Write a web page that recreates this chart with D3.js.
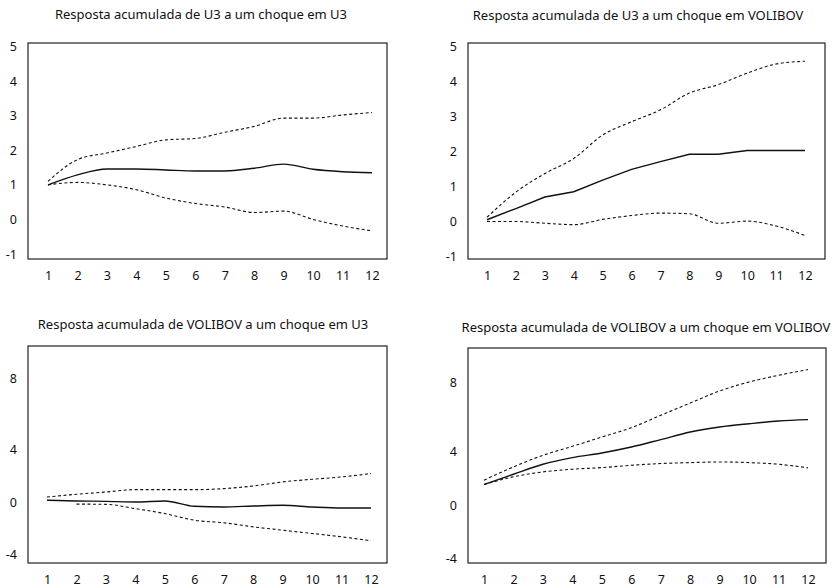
<!DOCTYPE html>
<html>
<head>
<meta charset="utf-8">
<script src="https://cdn.jsdelivr.net/npm/d3@7"></script>
<style>
  html, body { margin: 0; padding: 0; background: #fff; }
  svg { display: block; }
  text { font-family: "Noto Sans", "Open Sans", sans-serif; fill: #111; }
</style>
</head>
<body>
<svg id="chart" width="835" height="588"></svg>
<script>
// ---------------- data ----------------
const periods = [1, 2, 3, 4, 5, 6, 7, 8, 9, 10, 11, 12];

const titles = [
  "Resposta acumulada de U3 a um choque em U3",
  "Resposta acumulada de U3 a um choque em VOLIBOV",
  "Resposta acumulada de VOLIBOV a um choque em U3",
  "Resposta acumulada de VOLIBOV a um choque em VOLIBOV"
];

const yTicksU3 = [-1, 0, 1, 2, 3, 4, 5];
const yTicksVol = [-4, 0, 4, 8];

// U3 response to U3 shock
const u3u3Resp  = [1.00, 1.29, 1.46, 1.46, 1.43, 1.40, 1.40, 1.48, 1.60, 1.45, 1.38, 1.35];
const u3u3Upper = [1.10, 1.73, 1.92, 2.11, 2.30, 2.34, 2.52, 2.69, 2.93, 2.93, 3.02, 3.09];
const u3u3Lower = [1.00, 1.07, 1.00, 0.86, 0.62, 0.46, 0.36, 0.20, 0.24, 0.00, -0.19, -0.33];

// U3 response to VOLIBOV shock
const u3volResp  = [0.05, 0.37, 0.70, 0.85, 1.18, 1.49, 1.71, 1.92, 1.92, 2.03, 2.03, 2.03];
const u3volUpper = [0.12, 0.84, 1.37, 1.80, 2.47, 2.85, 3.19, 3.67, 3.91, 4.24, 4.50, 4.58];
const u3volLower = [0.00, 0.00, -0.05, -0.09, 0.06, 0.17, 0.24, 0.22, -0.05, 0.01, -0.13, -0.40];

// VOLIBOV response to U3 shock (lower band not shown at period 1)
const volu3Resp  = [0.13, 0.08, 0.05, 0.00, 0.08, -0.33, -0.38, -0.31, -0.25, -0.38, -0.46, -0.46];
const volu3Upper = [0.38, 0.59, 0.76, 0.94, 0.94, 0.94, 1.02, 1.22, 1.53, 1.73, 1.91, 2.17];
const volu3Lower = [null, -0.16, -0.18, -0.51, -0.89, -1.40, -1.60, -1.91, -2.17, -2.42, -2.68, -2.98];

// VOLIBOV response to VOLIBOV shock
const volvolResp  = [1.52, 2.28, 3.02, 3.51, 3.85, 4.23, 4.66, 5.10, 5.39, 5.58, 5.74, 5.82];
const volvolUpper = [1.84, 2.82, 3.68, 4.27, 4.81, 5.35, 6.07, 6.78, 7.48, 8.00, 8.39, 8.72];
const volvolLower = [1.52, 2.09, 2.45, 2.65, 2.77, 2.94, 3.07, 3.14, 3.19, 3.14, 3.02, 2.75];

// ---------------- layout ----------------
const panels = [
  { title: titles[0], tx: 201, ty: 19,
    box: { l: 28, r: 387, t: 43, b: 259 }, xr: [48, 372],
    yd: [-1, 5], yr: [254, 46.5], ticks: yTicksU3,
    resp: u3u3Resp, up: u3u3Upper, lo: u3u3Lower, curve: d3.curveMonotoneX },
  { title: titles[1], tx: 638, ty: 20,
    box: { l: 468, r: 825, t: 43, b: 259 }, xr: [487, 805],
    yd: [-1, 5], yr: [256.5, 46.5], ticks: yTicksU3,
    resp: u3volResp, up: u3volUpper, lo: u3volLower, curve: d3.curveLinear },
  { title: titles[2], tx: 203, ty: 329,
    box: { l: 28, r: 387, t: 346, b: 563 }, xr: [47, 371],
    yd: [-4, 0, 4, 8], yr: [554, 502, 449.5, 378], ticks: yTicksVol,
    resp: volu3Resp, up: volu3Upper, lo: volu3Lower, curve: d3.curveMonotoneX },
  { title: titles[3], tx: 646, ty: 332,
    box: { l: 468, r: 826, t: 348, b: 563 }, xr: [484, 808],
    yd: [-4, 0, 4, 8], yr: [558, 505, 451, 382], ticks: yTicksVol,
    resp: volvolResp, up: volvolUpper, lo: volvolLower, curve: d3.curveMonotoneX }
];

const svg = d3.select("#chart");
const fmt = d => String(d);

panels.forEach(p => {
  const g = svg.append("g");
  const x = d3.scaleLinear().domain([1, 12]).range(p.xr);
  const y = d3.scaleLinear().domain(p.yd).range(p.yr);

  // title
  g.append("text")
    .attr("x", p.tx).attr("y", p.ty)
    .attr("text-anchor", "middle")
    .style("font-size", "13px")
    .text(p.title);

  // frame
  g.append("rect")
    .attr("x", p.box.l).attr("y", p.box.t)
    .attr("width", p.box.r - p.box.l).attr("height", p.box.b - p.box.t)
    .attr("fill", "none").attr("stroke", "#222").attr("stroke-width", 1.2);

  // y axis labels
  const yAxis = d3.axisLeft(y).tickValues(p.ticks).tickSize(0).tickPadding(11)
    .tickFormat(fmt);
  const ya = g.append("g").attr("transform", `translate(${p.box.l},0)`).call(yAxis);
  ya.select(".domain").remove();
  ya.selectAll("text").style("font-size", "12.5px").style("font-family", '"Noto Sans", sans-serif').attr("fill", "#111");

  // x axis labels
  const xAxis = d3.axisBottom(x).tickValues(periods).tickSize(0).tickPadding(12)
    .tickFormat(fmt);
  const xa = g.append("g").attr("transform", `translate(0,${p.box.b})`).call(xAxis);
  xa.select(".domain").remove();
  xa.selectAll("text").style("font-size", "12.5px").style("font-family", '"Noto Sans", sans-serif').attr("fill", "#111");

  const line = d3.line()
    .defined(d => d !== null)
    .x((d, i) => x(periods[i])).y(d => y(d));

  [p.up, p.lo].forEach(arr => {
    g.append("path")
      .attr("d", line.curve(d3.curveMonotoneX)(arr))
      .attr("fill", "none").attr("stroke", "#111")
      .attr("stroke-width", 1.1).attr("stroke-dasharray", "3,2.5");
  });

  g.append("path")
    .attr("d", line.curve(p.curve)(p.resp))
    .attr("fill", "none").attr("stroke", "#111").attr("stroke-width", 1.4);
});
</script>
</body>
</html>
